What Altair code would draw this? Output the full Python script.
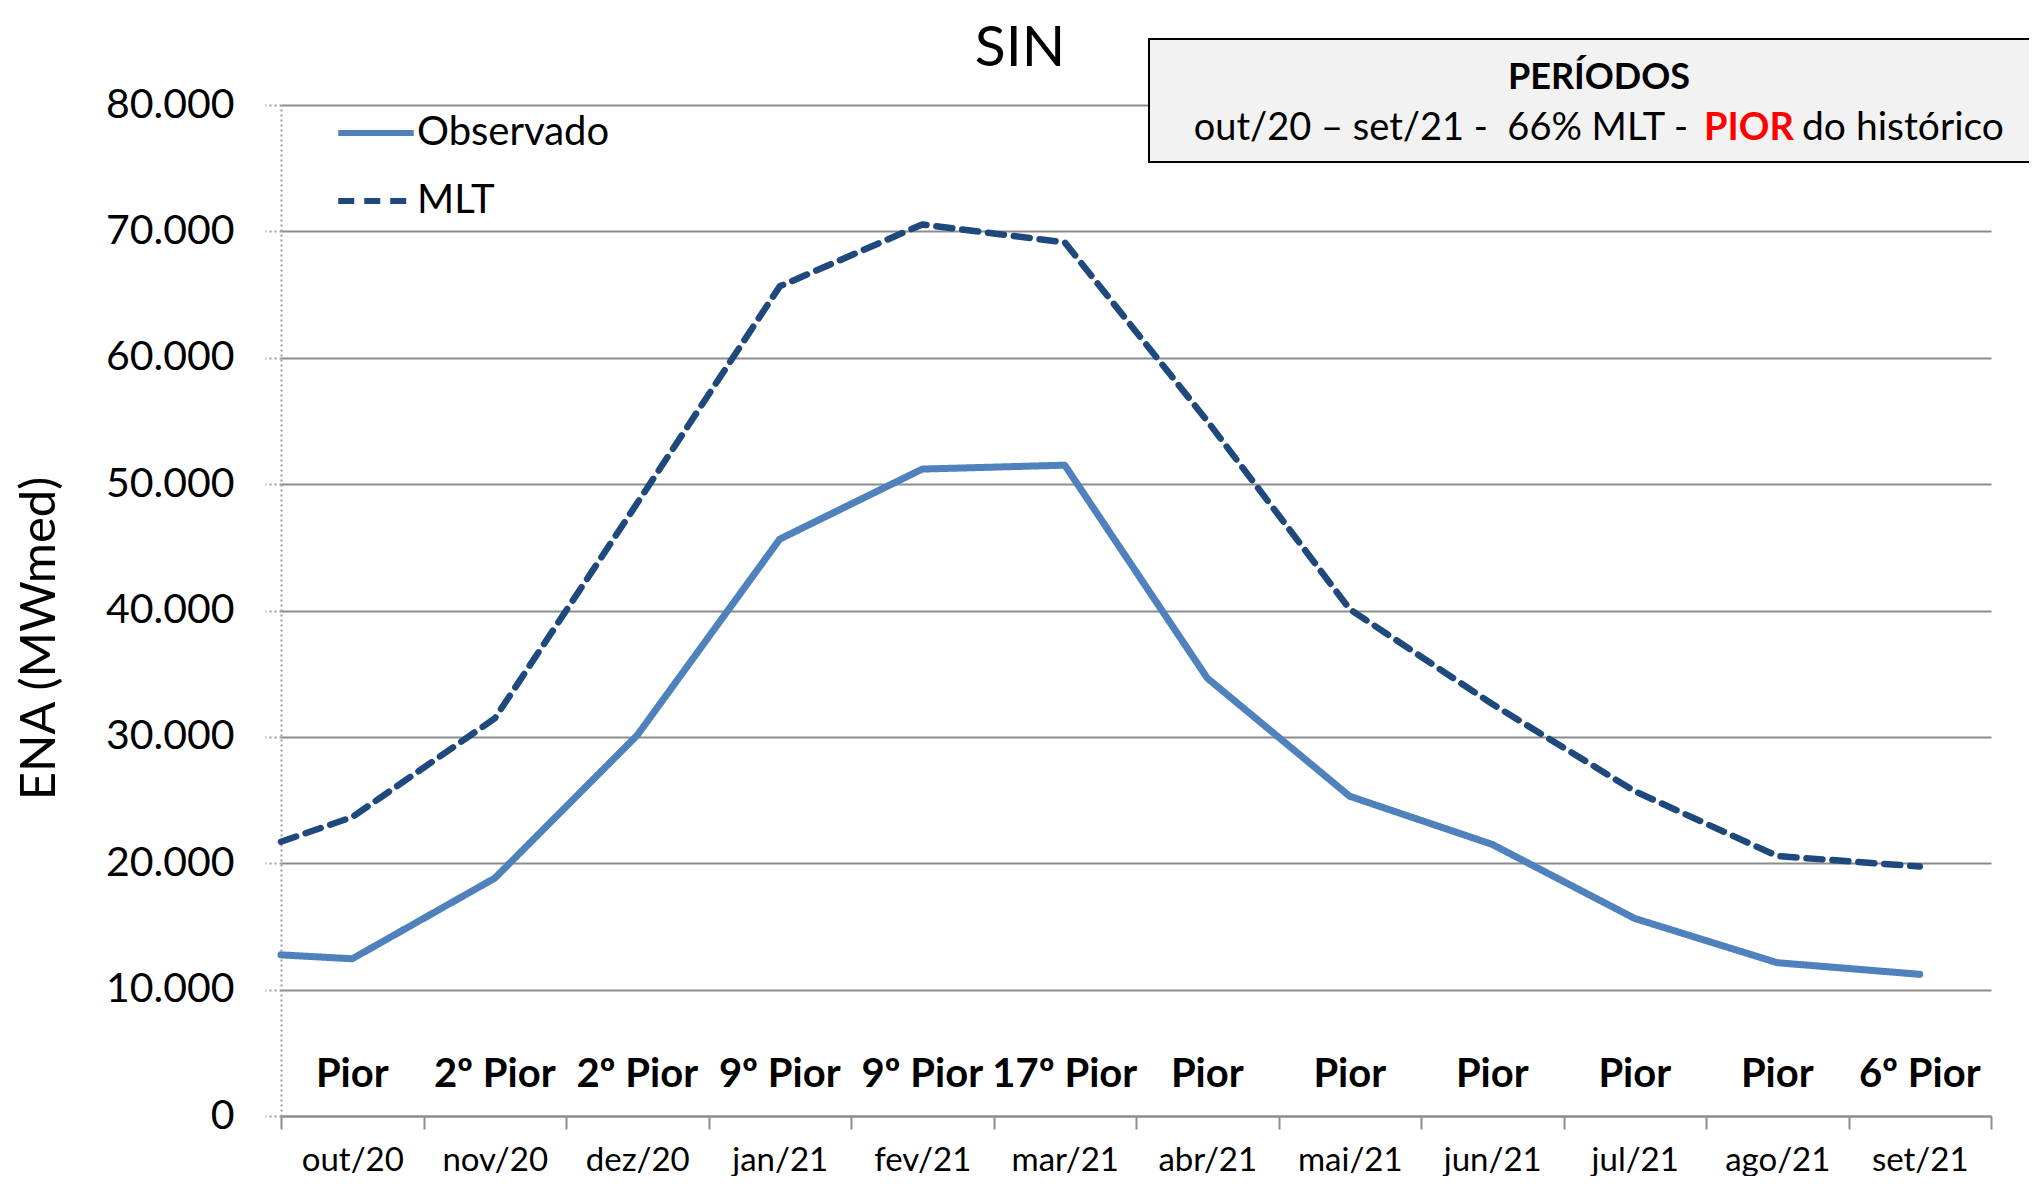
import json
import altair as alt
import pandas as pd

# ---------------- data ----------------
months = ["out/20", "nov/20", "dez/20", "jan/21", "fev/21", "mar/21",
          "abr/21", "mai/21", "jun/21", "jul/21", "ago/21", "set/21"]
observado_start = 12750
mlt_start = 21700
observado = [12440, 18820, 30130, 45650, 51190, 51500,
             34650, 25300, 21490, 15630, 12130, 11210]
mlt = [23650, 31460, 48500, 65650, 70550, 69130,
       55000, 40100, 32600, 25700, 20570, 19740]
ranks = ["Pior", "2º Pior", "2º Pior", "9º Pior", "9º Pior", "17º Pior",
         "Pior", "Pior", "Pior", "Pior", "Pior", "6º Pior"]
series_names = ["Observado", "MLT"]
y_ticks = [0, 10000, 20000, 30000, 40000, 50000, 60000, 70000, 80000]
title_text = "SIN"
box_title = "PERÍODOS"
box_part1 = "out/20 – set/21 -\u00a0 66% MLT -"
box_part2 = "PIOR"
box_part3 = "do histórico"

FONT = "Lato"
W, H = 1710, 1011

# build tables
pos = [i + 0.5 for i in range(len(months))]
rows = [{"x": 0.0, "v": observado_start, "serie": "Observado", "o": 0}]
rows += [{"x": p, "v": v, "serie": "Observado", "o": i + 1} for i, (p, v) in enumerate(zip(pos, observado))]
rows += [{"x": 0.0, "v": mlt_start, "serie": "MLT", "o": 0}]
rows += [{"x": p, "v": v, "serie": "MLT", "o": i + 1} for i, (p, v) in enumerate(zip(pos, mlt))]
lines_df = pd.DataFrame(rows)
rank_df = pd.DataFrame({"x": pos, "label": ranks, "y": [3280] * len(ranks)})

months_js = json.dumps(months)
x_scale = alt.Scale(domain=[0, 12], nice=False, zero=False)
y_scale = alt.Scale(domain=[0, 80000], nice=False)

legend_opts = dict(
    title=None, orient="none", legendX=54, legendY=-13,
    symbolType="stroke", symbolSize=5700, symbolStrokeWidth=6,
    labelFont=FONT, labelFontSize=40, labelColor="black", labelLimit=0,
    labelOffset=0, rowPadding=7, padding=0,
)

lines = alt.Chart(lines_df).mark_line(strokeCap="round", strokeJoin="round", clip=False).encode(
    x=alt.X("x:Q", scale=x_scale, axis=alt.Axis(
        values=[i * 0.5 for i in range(25)],
        labelExpr=f"(datum.value % 1 == 0.5) ? {months_js}[floor(datum.value)] : ''",
        tickOpacity={"condition": {"test": "datum.value % 1 == 0", "value": 1}, "value": 0},
        grid=False, title=None,
        domainColor="#8c8c8c", domainWidth=2,
        tickColor="#8c8c8c", tickWidth=2, tickSize=13,
        labelFont=FONT, labelFontSize=33, labelColor="black",
        labelPadding=15, labelAngle=0, labelFlush=False, labelOverlap=False,
    )),
    y=alt.Y("v:Q", scale=y_scale, axis=alt.Axis(
        values=y_ticks,
        labelExpr="replace(format(datum.value, ','), ',', '.')",
        grid=True, gridColor="#8c8c8c", gridWidth=2,
        domainColor="#9a9a9a", domainWidth=2, domainDash=[2, 3],
        tickColor="#9a9a9a", tickWidth=2, tickDash=[2, 3], tickSize=16,
        labelFont=FONT, labelFontSize=41, labelColor="black", labelPadding=31,
        title="ENA (MWmed)", titleFont=FONT, titleFontSize=49, titleFontWeight="normal",
        titleColor="black", titleX=-242, titleY=533, titleAngle=-90,
        titleBaseline="middle", titleAlign="center",
    )),
    color=alt.Color("serie:N", scale=alt.Scale(domain=series_names, range=["#4f81bd", "#1f497d"]),
                    legend=alt.Legend(**legend_opts)),
    strokeDash=alt.StrokeDash("serie:N", scale=alt.Scale(domain=series_names, range=[[1, 0], [16, 10]]),
                              legend=alt.Legend(**legend_opts)),
    strokeWidth=alt.StrokeWidth("serie:N", scale=alt.Scale(domain=series_names, range=[7, 6.5]), legend=None),
    order="o:Q",
)

rank_text = alt.Chart(rank_df).mark_text(font=FONT, fontSize=40, fontWeight="bold", color="black",
                                         baseline="middle", align="center").encode(
    x=alt.X("x:Q", scale=x_scale),
    y=alt.Y("y:Q", scale=y_scale),
    text="label:N",
)

one = pd.DataFrame({"a": [0]})
title = alt.Chart(one).mark_text(text=title_text, font=FONT, fontSize=57, color="black",
                                 align="center", baseline="alphabetic").encode(
    x=alt.value(739), y=alt.value(-39))
box = alt.Chart(one).mark_rect(fill="#f2f2f2", stroke="black", strokeWidth=2, clip=False).encode(
    x=alt.value(868), x2=alt.value(1800), y=alt.value(-66), y2=alt.value(57))
bt1 = alt.Chart(one).mark_text(text=box_title, font=FONT, fontSize=36, fontWeight="bold", color="black",
                               align="center", baseline="alphabetic").encode(x=alt.value(1318), y=alt.value(-16))
bt2 = alt.Chart(one).mark_text(text=box_part1, font=FONT, fontSize=38, color="black",
                               align="right", baseline="alphabetic").encode(x=alt.value(1407), y=alt.value(35))
bt3 = alt.Chart(one).mark_text(text=box_part2, font=FONT, fontSize=38, fontWeight="bold", color="#ff0000",
                               align="left", baseline="alphabetic").encode(x=alt.value(1423), y=alt.value(35))
bt4 = alt.Chart(one).mark_text(text=box_part3, font=FONT, fontSize=39, color="black",
                               align="left", baseline="alphabetic").encode(x=alt.value(1521), y=alt.value(35))

chart = alt.layer(lines, rank_text, title, box, bt1, bt2, bt3, bt4).resolve_scale(
    strokeWidth="independent"
).properties(
    width=W, height=H,
    autosize=alt.AutoSizeParams(type="none"),
    padding={"left": 273, "top": 97, "right": 38, "bottom": 60},
    background="white",
).configure_view(stroke=None)

chart.save("out.html", embed_options={"renderer": "svg", "actions": False})
